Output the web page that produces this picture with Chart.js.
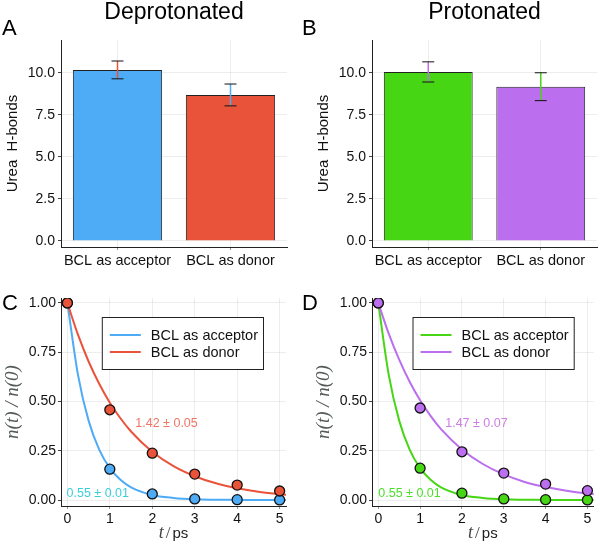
<!DOCTYPE html>
<html>
<head>
<meta charset="utf-8">
<script src="https://cdn.jsdelivr.net/npm/chart.js@4.4.0/dist/chart.umd.min.js"></script>
<style>
  body { margin: 0; background: #fff; }
  #wrap { position: relative; width: 600px; height: 548px; }
  canvas { position: absolute; }
</style>
</head>
<body>
<div id="wrap">
  <canvas id="chartA" width="300" height="280" style="left:0;top:0"></canvas>
  <canvas id="chartB" width="300" height="280" style="left:300px;top:0"></canvas>
  <canvas id="chartC" width="300" height="268" style="left:0;top:280px"></canvas>
  <canvas id="chartD" width="300" height="268" style="left:300px;top:280px"></canvas>
</div>
<script>
// bar panels (A, B)
const categories = ["BCL as acceptor", "BCL as donor"];
const hbondsDeprot = [10.18, 8.69];
const hbondsDeprotErr = [0.53, 0.65];
const hbondsProt = [10.06, 9.18];
const hbondsProtErr = [0.6, 0.83];
const barTicks = [0, 2.5, 5, 7.5, 10];

// decay panels (C, D)
const lagTimes = [0, 1, 2, 3, 4, 5];
const deprotAcceptor = [1.0, 0.157, 0.031, 0.006, 0.002, 0.001];
const deprotDonor = [1.0, 0.458, 0.238, 0.132, 0.076, 0.046];
const protAcceptor = [1.0, 0.162, 0.035, 0.006, 0.002, 0.001];
const protDonor = [1.0, 0.467, 0.245, 0.137, 0.081, 0.048];

// fitted curves
const fitTimes = [0, 0.25, 0.5, 0.75, 1, 1.25, 1.5, 2, 2.5, 3, 3.5, 4, 4.5, 5, 5.2];
const fitDeprotAcceptor = [1, 0.635, 0.403, 0.256, 0.162, 0.103, 0.065, 0.026, 0.011, 0.004, 0.002, 0.001, 0.0, 0.0, 0.0];
const fitDeprotDonor = [1, 0.839, 0.703, 0.59, 0.494, 0.415, 0.348, 0.245, 0.172, 0.121, 0.085, 0.06, 0.042, 0.03, 0.026];
const fitProtAcceptor = [1, 0.635, 0.403, 0.256, 0.162, 0.103, 0.065, 0.026, 0.011, 0.004, 0.002, 0.001, 0.0, 0.0, 0.0];
const fitProtDonor = [1, 0.844, 0.712, 0.6, 0.506, 0.427, 0.36, 0.257, 0.183, 0.13, 0.092, 0.066, 0.047, 0.033, 0.029];
const decayTicks = [0, 0.25, 0.5, 0.75, 1];

const BLUE = "#4eabf6";
const RED = "#e9533a";
const GREEN = "#46d614";
const PURPLE = "#bb6eee";
const SANS = '"Liberation Sans", Arial, sans-serif';
const SERIF = '"Liberation Serif", "Times New Roman", serif';
const GRID = "rgba(0,0,0,0.07)";

// letter + title + text notes
const panelDecor = {
  id: "panelDecor",
  afterDraw(chart, args, opts) {
    const ctx = chart.ctx;
    const area = chart.chartArea;
    ctx.save();
    ctx.fillStyle = "#000";
    ctx.textAlign = "left";
    ctx.textBaseline = "alphabetic";
    ctx.font = "22px " + SANS;
    if (opts.letter) ctx.fillText(opts.letter, opts.letterX, opts.letterY);
    if (opts.title) {
      ctx.font = "23px " + SANS;
      ctx.textAlign = "center";
      ctx.fillText(opts.title, (area.left + area.right) / 2, opts.titleY);
    }
    (opts.notes || []).forEach((n) => {
      ctx.textAlign = "left";
      ctx.textBaseline = "middle";
      ctx.fillStyle = n.color;
      ctx.font = "12.5px " + SANS;
      ctx.fillText(n.text, chart.scales.x.getPixelForValue(n.x), chart.scales.y.getPixelForValue(n.y));
    });
    if (opts.timeTitle) {
      const cx = (area.left + area.right) / 2;
      const y = opts.timeTitle;
      ctx.textBaseline = "alphabetic";
      ctx.textAlign = "left";
      ctx.fillStyle = "#444";
      ctx.font = "italic 18px " + SERIF;
      const w1 = ctx.measureText("t").width;
      ctx.font = "17px " + SERIF;
      const w2 = ctx.measureText("/").width;
      ctx.font = "15px " + SANS;
      const w3 = ctx.measureText("ps").width;
      let x = cx - (w1 + w2 + w3 + 4) / 2;
      ctx.font = "italic 18px " + SERIF;
      ctx.fillText("t", x, y);
      x += w1 + 2;
      ctx.font = "17px " + SERIF;
      ctx.fillText("/", x, y);
      x += w2 + 2;
      ctx.fillStyle = "#222";
      ctx.font = "15px " + SANS;
      ctx.fillText("ps", x, y);
    }
    ctx.restore();
  },
};

// error whiskers: colored stem, black caps
const errorBars = {
  id: "errorBars",
  afterDatasetsDraw(chart, args, opts) {
    if (!opts.errors) return;
    const ctx = chart.ctx;
    const meta = chart.getDatasetMeta(0);
    const yScale = chart.scales.y;
    const values = chart.data.datasets[0].data;
    ctx.save();
    meta.data.forEach((bar, i) => {
      const top = yScale.getPixelForValue(values[i] + opts.errors[i]);
      const bot = yScale.getPixelForValue(values[i] - opts.errors[i]);
      ctx.strokeStyle = opts.colors[i];
      ctx.lineWidth = 1.5;
      ctx.beginPath();
      ctx.moveTo(bar.x, top);
      ctx.lineTo(bar.x, bot);
      ctx.stroke();
      ctx.strokeStyle = "#111";
      ctx.lineWidth = 1;
      ctx.beginPath();
      ctx.moveTo(bar.x - 6, top);
      ctx.lineTo(bar.x + 6, top);
      ctx.moveTo(bar.x - 6, bot);
      ctx.lineTo(bar.x + 6, bot);
      ctx.stroke();
    });
    ctx.restore();
  },
};

// framed legend inside the plot, top right
const boxLegend = {
  id: "boxLegend",
  afterDraw(chart, args, opts) {
    if (!opts.show) return;
    const ctx = chart.ctx;
    const area = chart.chartArea;
    const items = chart.data.datasets.filter((d) => d.label);
    ctx.save();
    ctx.font = "14.5px " + SANS;
    const textW = Math.max(...items.map((d) => ctx.measureText(d.label).width));
    const w = 9 + 31 + 10 + textW + 4;
    const h = 52;
    const left = area.right - opts.right - w;
    const top = area.top + 19;
    ctx.fillStyle = "#fff";
    ctx.fillRect(left, top, w, h);
    ctx.strokeStyle = "#222";
    ctx.lineWidth = 1;
    ctx.strokeRect(left + 0.5, top + 0.5, w, h);
    items.forEach((d, i) => {
      const y = top + 18 + i * 17;
      ctx.strokeStyle = d.borderColor;
      ctx.lineWidth = 2;
      ctx.beginPath();
      ctx.moveTo(left + 8, y);
      ctx.lineTo(left + 39, y);
      ctx.stroke();
      ctx.fillStyle = "#111";
      ctx.textBaseline = "middle";
      ctx.fillText(d.label, left + 49, y + 1);
    });
    ctx.restore();
  },
};

Chart.register(panelDecor, errorBars, boxLegend);

function barPanel(id, values, errors, colors, errColors, letter, title, padLeft, padRight) {
  return new Chart(document.getElementById(id), {
    type: "bar",
    data: {
      labels: categories,
      datasets: [
        {
          data: values,
          backgroundColor: colors,
          borderColor: "#222",
          borderWidth: 1,
          barPercentage: 0.79,
          categoryPercentage: 1,
        },
      ],
    },
    options: {
      responsive: false,
      animation: false,
      layout: { padding: { left: padLeft, right: padRight, top: 40, bottom: 0 } },
      plugins: {
        legend: { display: false },
        tooltip: { enabled: false },
        panelDecor: { letter: letter, letterX: 2, letterY: 35, title: title, titleY: 19 },
        errorBars: { errors: errors, colors: errColors },
        boxLegend: { show: false },
      },
      scales: {
        x: {
          afterFit: (s) => { s.height = 33; },
          grid: { offset: false, color: GRID, tickLength: 3, tickColor: "#999" },
          border: { color: "#222", width: 1 },
          ticks: {
            color: "#111",
            font: { family: SANS, size: 14.5 },
            padding: 2,
            maxRotation: 0,
            minRotation: 0,
            autoSkip: false,
          },
        },
        y: {
          min: -0.36,
          max: 11.96,
          afterFit: (s) => { s.width = 61; },
          afterBuildTicks: (s) => { s.ticks = barTicks.map((v) => ({ value: v })); },
          grid: { color: GRID, tickLength: 3, tickColor: "#444" },
          border: { color: "#222", width: 1 },
          ticks: {
            color: "#111",
            font: { family: SANS, size: 14 },
            padding: 3,
            callback: (v) => Number(v).toFixed(1),
          },
          title: {
            display: true,
            text: "Urea  H-bonds",
            color: "#111",
            font: { family: SANS, size: 15 },
            padding: { top: 4, bottom: 0 },
          },
        },
      },
    },
  });
}

function decayPanel(id, points, fits, colors, labels, notes, letter, padLeft, padRight, legendRight) {
  const datasets = [];
  points.forEach((p, i) => {
    datasets.push({
      data: lagTimes.map((t, k) => ({ x: t, y: p[k] })),
      showLine: false,
      pointRadius: 5,
      pointBackgroundColor: colors[i],
      pointBorderColor: "#111",
      pointBorderWidth: 1.3,
      order: 1 - i,
    });
  });
  fits.forEach((f, i) => {
    datasets.push({
      label: labels[i],
      data: fitTimes.map((t, k) => ({ x: t, y: f[k] })),
      showLine: true,
      borderColor: colors[i],
      borderWidth: 2,
      pointRadius: 0,
      cubicInterpolationMode: "monotone",
      order: 3 - i,
    });
  });
  return new Chart(document.getElementById(id), {
    type: "scatter",
    data: { datasets: datasets },
    options: {
      responsive: false,
      animation: false,
      layout: { padding: { left: padLeft, right: padRight, top: 18, bottom: 0 } },
      plugins: {
        legend: { display: false },
        tooltip: { enabled: false },
        panelDecor: { letter: letter, letterX: 2, letterY: 30, notes: notes, timeTitle: 258 },
        boxLegend: { show: true, right: legendRight },
      },
      scales: {
        x: {
          type: "linear",
          min: -0.15,
          max: 5.15,
          afterFit: (s) => { s.height = 42; },
          grid: { color: GRID, tickLength: 3, tickColor: "#999" },
          border: { color: "#222", width: 1 },
          ticks: { stepSize: 1, includeBounds: false, color: "#111", font: { family: SANS, size: 14 }, padding: 2 },
        },
        y: {
          min: -0.03,
          max: 1.025,
          afterFit: (s) => { s.width = 61; },
          afterBuildTicks: (s) => { s.ticks = decayTicks.map((v) => ({ value: v })); },
          grid: { color: GRID, tickLength: 3, tickColor: "#444" },
          border: { color: "#222", width: 1 },
          ticks: {
            color: "#111",
            font: { family: SANS, size: 14 },
            padding: 2,
            callback: (v) => Number(v).toFixed(2),
          },
          title: {
            display: true,
            text: "n(t) / n(0)",
            color: "#555b5b",
            font: { family: SERIF, size: 19, style: "italic" },
            padding: { top: 2, bottom: 0 },
          },
        },
      },
    },
  });
}

barPanel("chartA", hbondsDeprot, hbondsDeprotErr, [BLUE, RED], [RED, BLUE], "A", "Deprotonated", 0, 13);
barPanel("chartB", hbondsProt, hbondsProtErr, [GREEN, PURPLE], [PURPLE, GREEN], "B", "Protonated", 11, 3);

decayPanel(
  "chartC",
  [deprotAcceptor, deprotDonor],
  [fitDeprotAcceptor, fitDeprotDonor],
  [BLUE, RED],
  categories,
  [
    { text: "1.42 \u00b1 0.05", x: 1.6, y: 0.39, color: "#f07565" },
    { text: "0.55 \u00b1 0.01", x: -0.02, y: 0.035, color: "#3ccfd8" },
  ],
  "C", 0, 14, 23
);
decayPanel(
  "chartD",
  [protAcceptor, protDonor],
  [fitProtAcceptor, fitProtDonor],
  [GREEN, PURPLE],
  categories,
  [
    { text: "1.47 \u00b1 0.07", x: 1.6, y: 0.39, color: "#cc7de0" },
    { text: "0.55 \u00b1 0.01", x: 0.0, y: 0.035, color: "#4cdf2a" },
  ],
  "D", 11, 1, 20
);
</script>
</body>
</html>
